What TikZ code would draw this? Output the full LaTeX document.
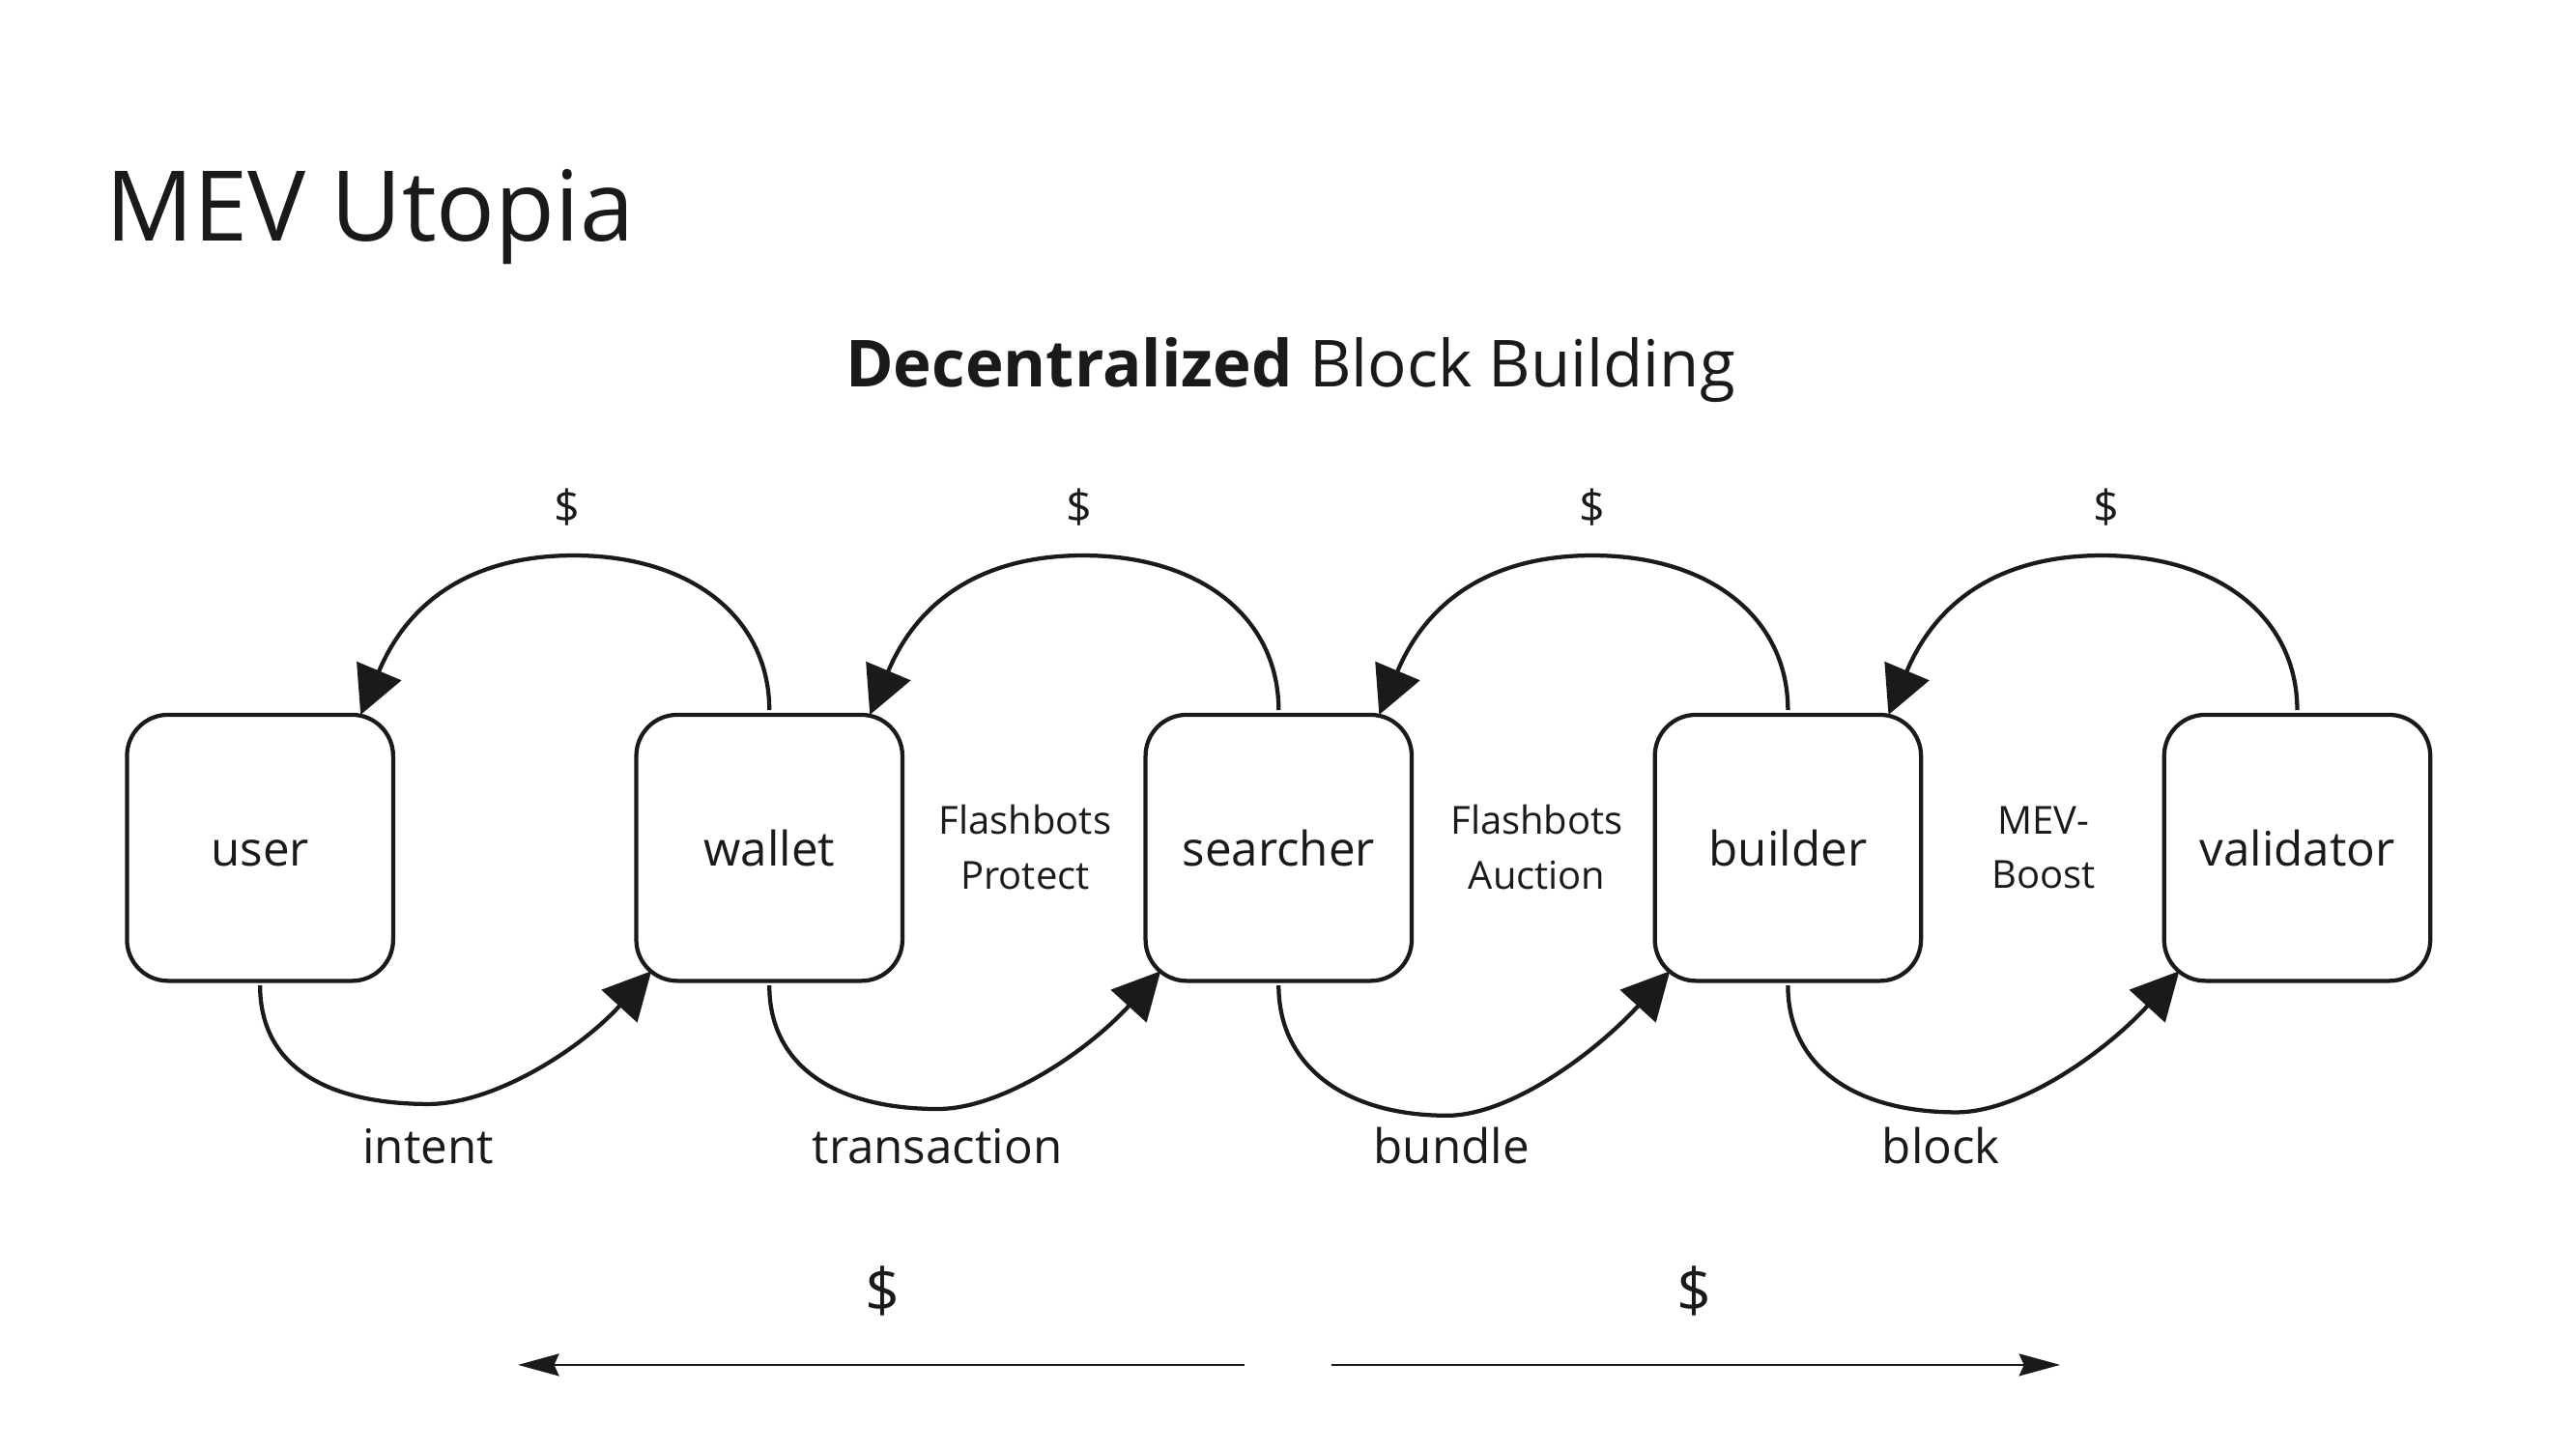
\documentclass[tikz,border=0pt]{standalone}
\usepackage{fontspec}
\setmainfont{Open Sans}
\usetikzlibrary{arrows.meta,calc}
\definecolor{ink}{RGB}{26,26,26}
\begin{document}
\begin{tikzpicture}[x=1pt,y=1pt,
  box/.style={draw=ink, line width=2.5pt, rounded corners=25pt, minimum width=162pt, minimum height=162pt, inner sep=0pt, font=\fontsize{29}{35}\selectfont, text=ink, text height=22.6pt, text depth=0pt},
  lbl/.style={font=\fontsize{29}{35}\selectfont, text=ink, inner sep=0pt, anchor=base},
  mid/.style={font=\fontsize{23.5}{33}\selectfont, text=ink, align=center, inner sep=0pt},
  dollar/.style={font=\fontsize{27.6}{33}\selectfont, text=ink, inner sep=0pt},
  bigdollar/.style={font=\fontsize{37}{44}\selectfont, text=ink, inner sep=0pt},
  flow/.style={draw=ink, line width=2.5pt, -{Triangle[length=29pt,width=29pt]}},
  money/.style={draw=ink, line width=1.6pt, -{Stealth[length=25pt,width=13.5pt,inset=3pt]}}
]
\useasboundingbox[fill=white] (0,0) rectangle (1568,-882);

\node[anchor=base west, inner sep=0pt, text=ink, font=\fontsize{59.4}{72}\selectfont] (title) at (64,-146.5) {MEV Utopia};
\node[anchor=base, inner sep=0pt, text=ink, font=\fontsize{39.5}{48}\selectfont] (sub) at (785.5,-235.3) {\textbf{Decentralized} Block Building};

\node[box] (user) at (158.3,-516.2) {user};
\node[box] (wallet) at (468.3,-516.2) {wallet};
\node[box] (searcher) at (778.3,-516.2) {searcher};
\node[box] (builder) at (1088.3,-516.2) {builder};
\node[box] (validator) at (1398.3,-516.2) {validator};

\foreach \a/\b/\d in {user/wallet/156, wallet/searcher/159, searcher/builder/163, builder/validator/161} {
  \draw[flow] ($(\b.center)+(0,83.8)$) .. controls ($(\b.center)+(0,140.3)$) and ($(\b.center)+(-47.8,178)$) .. ($(\b.center)+(-119,178)$) .. controls ($(\b.center)+(-173,178)$) and ($(\a.center)+(93,156.6)$) .. ($(\a.center)+(61.2,81)$);
  \draw[flow] ($(\a.center)+(0,-83.8)$) .. controls ($(\a.center)+(0,-133.8)$) and ($(\a.center)+(41.7,-\d)$) .. ($(\a.center)+(102.5,-\d)$) .. controls ($(\a.center)+(141.7,-\d)$) and ($(\b.center)+(-116.3,-123.8)$) .. ($(\b.center)+(-71.8,-75)$);
}

\node[dollar] (d1) at (345,-309) {\$};
\node[dollar] (d2) at (657,-309) {\$};
\node[dollar] (d3) at (969,-309) {\$};
\node[dollar] (d4) at (1282,-309) {\$};

\node[lbl] (intent) at (260.6,-708.5) {intent};
\node[lbl] (transaction) at (570.5,-708.5) {transaction};
\node[lbl] (bundle) at (883.5,-708.5) {bundle};
\node[lbl] (block) at (1181.5,-708.5) {block};

\node[mid] (fbp) at (624,-515.8) {Flashbots\\Protect};
\node[mid] (fba) at (935.5,-515.8) {Flashbots\\Auction};
\node[mid] (mevb) at (1243.8,-515.8) {MEV-\\Boost};

\node[bigdollar] (bd1) at (537,-786) {\$};
\node[bigdollar] (bd2) at (1031,-786) {\$};
\coordinate (la) at (757.8,-831);
\coordinate (lb) at (315.3,-831);
\coordinate (ra) at (810.4,-831);
\coordinate (rb) at (1254,-831);
\draw[money] (la) -- (lb);
\draw[money] (ra) -- (rb);
\end{tikzpicture}
\end{document}
